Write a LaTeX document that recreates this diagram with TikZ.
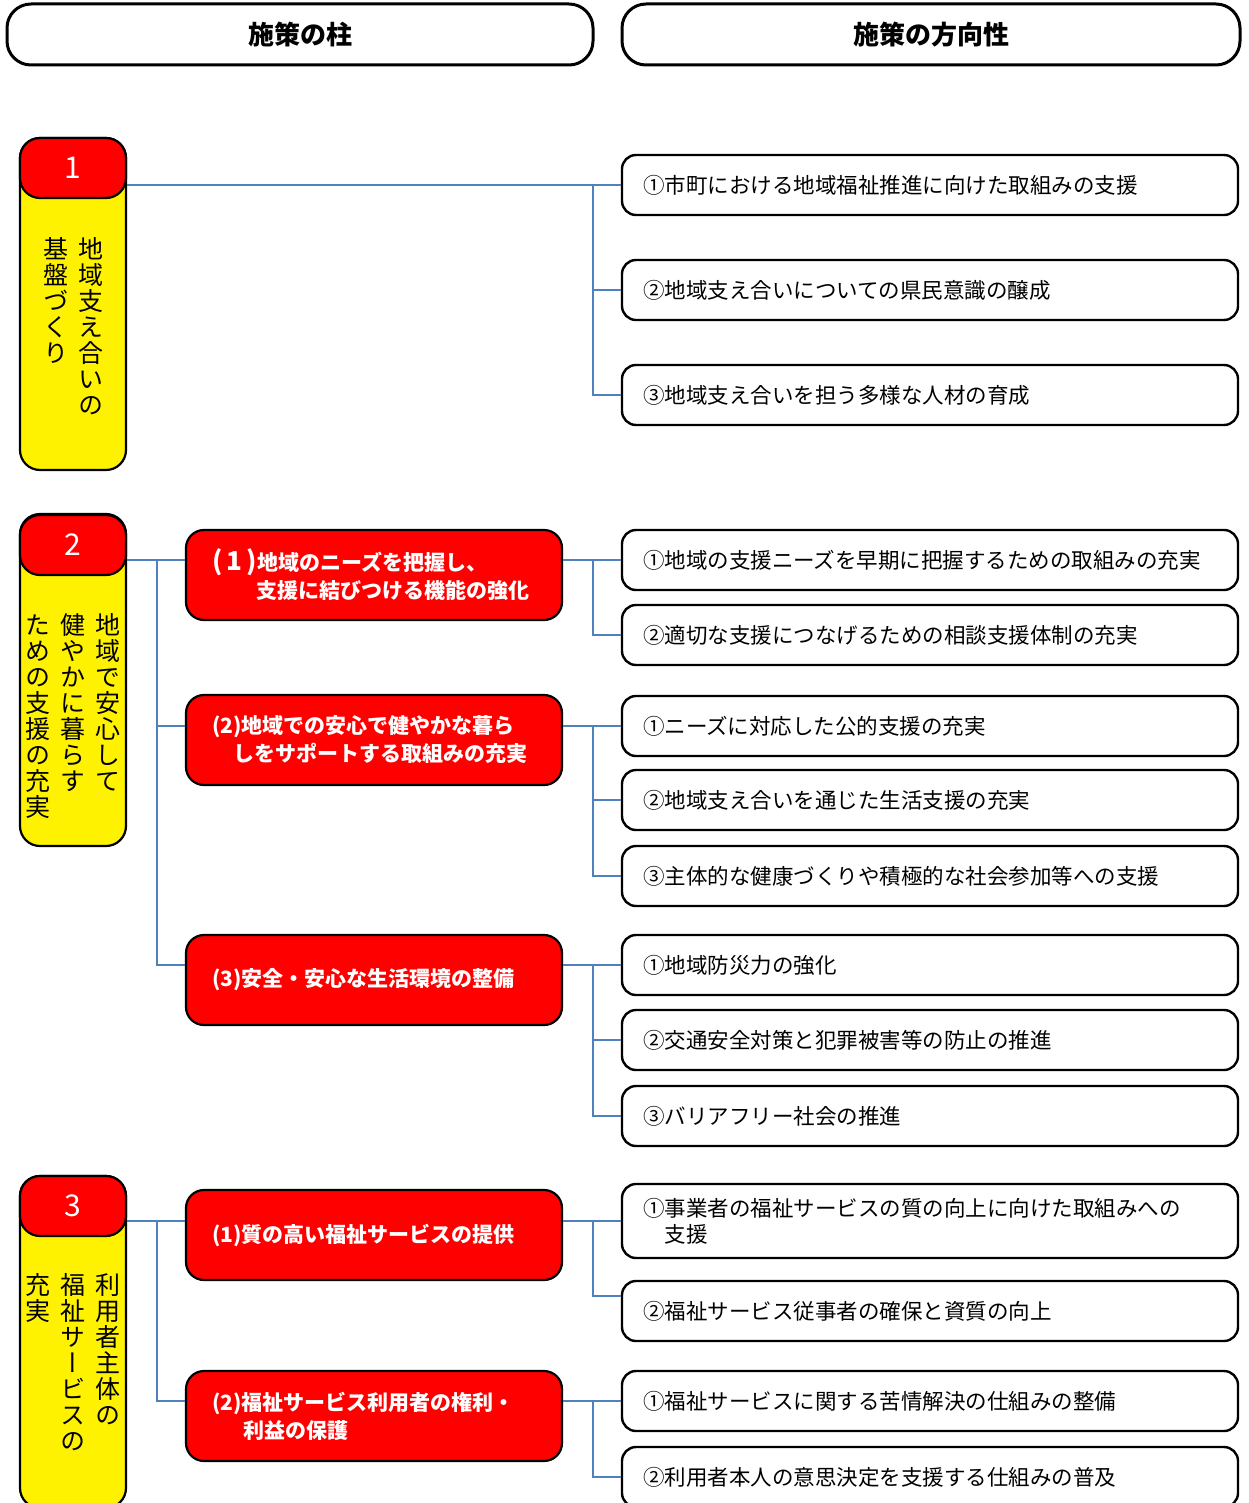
\documentclass[tikz,border=0pt]{standalone}
\usepackage{fontspec}
\setmainfont{Noto Sans CJK JP}
\newfontfamily\tatefont[RawFeature=+vert]{Noto Sans CJK JP}
\definecolor{linkblue}{RGB}{79,129,189}

% one column of vertical text, one character per row
\newcommand\vcol[1]{\vtop{\baselineskip=13pt\lineskiplimit=-20pt\lineskip=0pt\vcolsplit#1\relax}}
\def\vcolsplit#1{\ifx\relax#1\else\hbox to 13pt{\hss#1\hss}\expandafter\vcolsplit\fi}

\begin{document}
\begin{tikzpicture}[x=0.5pt, y=-0.5pt,
    headbox/.style={draw, line width=1.5pt, rounded corners=12pt, minimum height=30.5pt,
      font=\bfseries\fontsize{13}{15}\selectfont},
    pillarbox/.style={draw, line width=1.1pt, fill=yellow, rounded corners=10pt,
      minimum width=53pt, minimum height=166pt},
    numbox/.style={draw, line width=1.1pt, fill=red, rounded corners=10pt,
      minimum width=53pt, minimum height=30pt, text=white, font=\fontsize{15}{18}\selectfont},
    redbox/.style={draw, line width=1.1pt, fill=red, rounded corners=9pt,
      minimum width=188pt, minimum height=45pt, text width=162pt, inner xsep=13pt,
      align=left, text=white, font=\bfseries\fontsize{10.5}{14}\selectfont},
    itembox/.style={draw, line width=1.2pt, rounded corners=7pt,
      minimum width=308pt, minimum height=30pt, text width=287pt, inner xsep=10.5pt,
      align=left, font=\fontsize{10.75}{13}\selectfont},
    tate/.style={inner sep=0pt, font=\tatefont\fontsize{12.5}{13}\selectfont},
    link/.style={draw=linkblue, line width=1.3pt}]
  \clip (0,0) rectangle (1248,1503);

  % headings
  \node[headbox, minimum width=293pt] (h1) at (300,34.5) {施策の柱};
  \node[headbox, minimum width=309pt] (h2) at (931,34.5) {施策の方向性};

  % pillar 1
  \node[pillarbox] (p1) at (73,304) {};
  \node[numbox] (n1) at (73,168) {1};
  \node[tate, anchor=north] (v1) at (73,237) {\vcol{基盤づくり}\hspace{4.5pt}\vcol{地域支え合いの}};

  \node[itembox] (b11) at (930,185) {①市町における地域福祉推進に向けた取組みの支援};
  \node[itembox] (b12) at (930,290) {②地域支え合いについての県民意識の醸成};
  \node[itembox] (b13) at (930,395) {③地域支え合いを担う多様な人材の育成};

  % pillar 2
  \node[pillarbox] (p2) at (73,680) {};
  \node[numbox] (n2) at (73,545) {2};
  \node[tate, anchor=north] (v2) at (73,613) {\vcol{ための支援の充実}\hspace{4.5pt}\vcol{健やかに暮らす}\hspace{4.5pt}\vcol{地域で安心して}};

  \node[redbox] (a21) at (374,575) {{\fontsize{13}{14}\selectfont(\,1\,)}地域のニーズを把握し、\\\hspace*{2.1em}支援に結びつける機能の強化};
  \node[redbox] (a22) at (374,740) {(2)地域での安心で健やかな暮ら\\\hspace*{1em}しをサポートする取組みの充実};
  \node[redbox] (a23) at (374,980) {(3)安全・安心な生活環境の整備};

  \node[itembox] (b211) at (930,560) {①地域の支援ニーズを早期に把握するための取組みの充実};
  \node[itembox] (b212) at (930,635) {②適切な支援につなげるための相談支援体制の充実};
  \node[itembox] (b221) at (930,726) {①ニーズに対応した公的支援の充実};
  \node[itembox] (b222) at (930,800) {②地域支え合いを通じた生活支援の充実};
  \node[itembox] (b223) at (930,876) {③主体的な健康づくりや積極的な社会参加等への支援};
  \node[itembox] (b231) at (930,965) {①地域防災力の強化};
  \node[itembox] (b232) at (930,1040) {②交通安全対策と犯罪被害等の防止の推進};
  \node[itembox] (b233) at (930,1116) {③バリアフリー社会の推進};

  % pillar 3
  \node[pillarbox] (p3) at (73,1342) {};
  \node[numbox] (n3) at (73,1206) {3};
  \node[tate, anchor=north] (v3) at (73,1273) {\vcol{充実}\hspace{4.5pt}\vcol{福祉サービスの}\hspace{4.5pt}\vcol{利用者主体の}};

  \node[redbox] (a31) at (374,1235) {(1)質の高い福祉サービスの提供};
  \node[redbox] (a32) at (374,1416) {(2)福祉サービス利用者の権利・\\\hspace*{1.5em}利益の保護};

  \node[itembox, minimum height=37pt] (b311) at (930,1221) {①事業者の福祉サービスの質の向上に向けた取組みへの\\\hspace*{1em}支援};
  \node[itembox] (b312) at (930,1311) {②福祉サービス従事者の確保と資質の向上};
  \node[itembox] (b321) at (930,1401) {①福祉サービスに関する苦情解決の仕組みの整備};
  \node[itembox] (b322) at (930,1477) {②利用者本人の意思決定を支援する仕組みの普及};

  % connectors
  \coordinate (j1) at (593,185);
  \draw[link] (p1.east |- b11.west) -- (b11.west);
  \draw[link] (j1) |- (b12.west);
  \draw[link] (j1) |- (b13.west);

  \coordinate (k2) at (157,560);
  \draw[link] (p2.east |- b211.west) -- (a21.west |- b211.west);
  \draw[link] (k2) |- (a22.west |- b221.west);
  \draw[link] (k2) |- (a23.west |- b231.west);

  \coordinate (j21) at (593,560);
  \draw[link] (a21.east |- b211.west) -- (b211.west);
  \draw[link] (j21) |- (b212.west);
  \coordinate (j22) at (593,726);
  \draw[link] (a22.east |- b221.west) -- (b221.west);
  \draw[link] (j22) |- (b222.west);
  \draw[link] (j22) |- (b223.west);
  \coordinate (j23) at (593,965);
  \draw[link] (a23.east |- b231.west) -- (b231.west);
  \draw[link] (j23) |- (b232.west);
  \draw[link] (j23) |- (b233.west);

  \coordinate (k3) at (157,1221);
  \draw[link] (p3.east |- b311.west) -- (a31.west |- b311.west);
  \draw[link] (k3) |- (a32.west |- b321.west);

  \coordinate (j31) at (593,1221);
  \draw[link] (a31.east |- b311.west) -- (b311.west);
  \draw[link] (j31) |- ([yshift=7.5pt]b312.west);
  \coordinate (j32) at (593,1401);
  \draw[link] (a32.east |- b321.west) -- (b321.west);
  \draw[link] (j32) |- (b322.west);
\end{tikzpicture}
\end{document}
